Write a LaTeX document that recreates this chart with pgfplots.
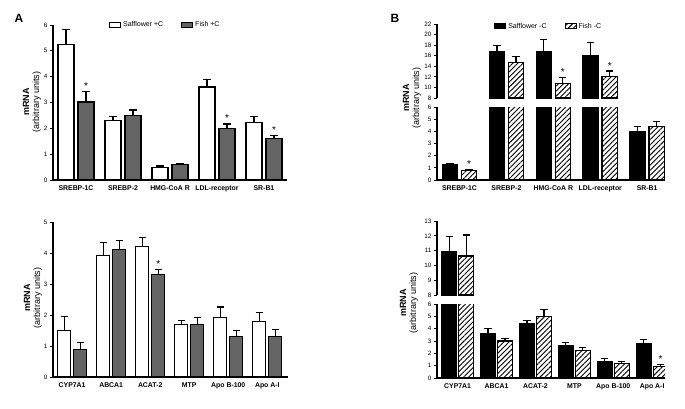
\documentclass[border=0pt]{standalone}
\usepackage{fontspec}
\setmainfont{Liberation Sans}
\usepackage{pgfplots}
\pgfplotsset{compat=1.18}
\usetikzlibrary{patterns,patterns.meta}
\definecolor{fishgray}{RGB}{100,100,100}
\tikzset{ylab/.style={rotate=90, align=center, font=\fontsize{9}{10}\selectfont},
  ast/.style={anchor=south, yshift=-1.5pt, font=\fontsize{10}{10}\selectfont}}
\pgfplotsset{
  prism/.style={
    scale only axis, anchor=south west,
    axis x line*=bottom, axis y line*=left,
    enlargelimits=false,
    tick align=outside, major tick length=3pt,
    xtick style={draw=none},
    ytick style={line width=1pt, black},
    axis line style={line width=1.1pt, black},
    /pgf/number format/assume math mode=true,
    ticklabel style={font=\fontsize{6.3}{7}\selectfont},
    yticklabel style={xshift=1pt},
    xticklabel style={font=\fontsize{6.9}{7.5}\selectfont\bfseries, yshift=1pt},
    clip marker paths=true,
    legend style={draw=none, fill=none, font=\fontsize{7}{8}\selectfont,
      legend columns=2, /tikz/every even column/.append style={column sep=16pt}},
    every axis plot/.append style={line width=1.15pt, draw=black,
      /pgfplots/error bars/y dir=plus, /pgfplots/error bars/y explicit,
      /pgfplots/error bars/error bar style={line width=1.15pt, black, solid},
      /pgfplots/error bars/error mark options={rotate=90, mark size=3.6pt, line width=1.15pt, black}},
  },
  boxleg/.style={legend image code/.code={\draw[##1, line width=1pt] (0pt,-2.5pt) rectangle (11pt,2.5pt);}},
  saff/.style={fill=white, draw=black, boxleg},
  fish/.style={fill=fishgray, draw=black, boxleg},
  saffB/.style={fill=black, draw=black, boxleg},
  fishB/.style={draw=black, pattern={Lines[angle=45, distance=3.6pt, line width=0.9pt]}, boxleg},
}
\newcommand{\ylabtext}{\textbf{mRNA}\\(arbitrary units)}
\begin{document}
\begin{tikzpicture}
\useasboundingbox (0pt,0pt) rectangle (685pt,408pt);

% ---------------- Panel A top ----------------
\begin{axis}[prism, at={(53pt,228pt)}, width=234pt, height=155pt,
  xmin=-0.49, xmax=4.49, ymin=0, ymax=6, ytick={0,1,...,6},
  ybar=4pt, bar width=16pt,
  xtick={0,...,4}, xticklabels={SREBP-1C,SREBP-2,HMG-CoA R,LDL-receptor,SR-B1},
  legend style={at={(0.48,1)}, anchor=center}]
\addplot[saff] coordinates {(0,5.23)+-(0,0.58) (1,2.31)+-(0,0.15) (2,0.49)+-(0,0.05) (3,3.6)+-(0,0.28) (4,2.21)+-(0,0.25)};
\addplot[fish] coordinates {(0,3.02)+-(0,0.40) (1,2.5)+-(0,0.21) (2,0.59)+-(0,0.06) (3,2.0)+-(0,0.17) (4,1.6)+-(0,0.12)};
\legend{Safflower +C, Fish +C}
\node[ast, xshift=10pt] at (axis cs:0,3.42) {*};
\node[ast, xshift=10pt] at (axis cs:3,2.17) {*};
\node[ast, xshift=10pt] at (axis cs:4,1.72) {*};
\end{axis}
\node[ylab] at (32pt,306pt) {\ylabtext};
\node[font=\fontsize{12}{12}\selectfont\bfseries] at (19pt,390pt) {A};

% ---------------- Panel A bottom ----------------
\begin{axis}[prism, at={(53pt,31pt)}, width=235pt, height=155pt,
  xmin=-0.49, xmax=5.53, ymin=0, ymax=5, ytick={0,1,...,5},
  ybar=3pt, bar width=13pt,
  xtick={0,...,5}, xticklabels={CYP7A1,ABCA1,ACAT-2,MTP,Apo B-100,Apo A-I}]
\addplot[saff] coordinates {(0,1.5)+-(0,0.45) (1,3.91)+-(0,0.44) (2,4.21)+-(0,0.29) (3,1.7)+-(0,0.13) (4,1.91)+-(0,0.35) (5,1.8)+-(0,0.29)};
\addplot[fish] coordinates {(0,0.9)+-(0,0.22) (1,4.11)+-(0,0.29) (2,3.31)+-(0,0.17) (3,1.7)+-(0,0.23) (4,1.3)+-(0,0.21) (5,1.3)+-(0,0.24)};
\node[ast, xshift=8pt] at (axis cs:2,3.48) {*};
\end{axis}
\node[ylab] at (33pt,110pt) {\ylabtext};

% ---------------- Panel B top (broken axis) ----------------
\begin{axis}[prism, at={(437pt,228pt)}, width=228pt, height=73pt,
  xmin=-0.48, xmax=4.38, ymin=0, ymax=6, ytick={0,1,...,6},
  ybar=3.5pt, bar width=15.5pt,
  xtick={0,...,4}, xticklabels={SREBP-1C,SREBP-2,HMG-CoA R,LDL-receptor,SR-B1}]
\addplot[saffB] coordinates {(0,1.25)+-(0,0.08) (1,16.78)+-(0,0) (2,16.8)+-(0,0) (3,16.08)+-(0,0) (4,3.99)+-(0,0.41)};
\addplot[fishB] coordinates {(0,0.8)+-(0,0.08) (1,14.75)+-(0,0) (2,10.74)+-(0,0) (3,12.0)+-(0,0) (4,4.38)+-(0,0.41)};
\node[ast, xshift=9.5pt] at (axis cs:0,0.88) {*};
\end{axis}
\begin{axis}[prism, at={(437pt,310pt)}, width=228pt, height=74pt,
  axis x line=none,
  xmin=-0.48, xmax=4.38, ymin=8, ymax=22, ytick={8,10,...,22},
  ybar=3.5pt, bar width=15.5pt, xtick=\empty,
  legend style={at={(0.49,0.97)}, anchor=center}]
\addplot[saffB] coordinates {(1,16.78)+-(0,1.15) (2,16.8)+-(0,2.2) (3,16.08)+-(0,2.42)};
\addplot[fishB] coordinates {(1,14.75)+-(0,1.08) (2,10.74)+-(0,1.14) (3,12.0)+-(0,1.1)};
\legend{Safflower -C, Fish -C}
\node[ast, xshift=9.5pt] at (axis cs:2,11.88) {*};
\node[ast, xshift=9.5pt] at (axis cs:3,13.1) {*};
\end{axis}
\node[ylab] at (412pt,310pt) {\ylabtext};
\node[font=\fontsize{12}{12}\selectfont\bfseries] at (395pt,390pt) {B};

% ---------------- Panel B bottom (broken axis) ----------------
\begin{axis}[prism, at={(437pt,30pt)}, width=228pt, height=74pt,
  xmin=-0.53, xmax=5.33, ymin=0, ymax=6, ytick={0,1,...,6},
  ybar=2pt, bar width=15pt,
  xtick={0,...,5}, xticklabels={CYP7A1,ABCA1,ACAT-2,MTP,Apo B-100,Apo A-I}]
\addplot[saffB] coordinates {(0,10.93)+-(0,0) (1,3.63)+-(0,0.35) (2,4.39)+-(0,0.27) (3,2.62)+-(0,0.27) (4,1.34)+-(0,0.21) (5,2.81)+-(0,0.33)};
\addplot[fishB] coordinates {(0,10.64)+-(0,0) (1,3.0)+-(0,0.22) (2,4.99)+-(0,0.55) (3,2.24)+-(0,0.24) (4,1.15)+-(0,0.21) (5,0.95)+-(0,0.17)};
\node[ast, xshift=8.5pt] at (axis cs:5,1.12) {*};
\end{axis}
\begin{axis}[prism, at={(437pt,113pt)}, width=228pt, height=74pt,
  axis x line=none,
  xmin=-0.53, xmax=5.33, ymin=8, ymax=13, ytick={8,9,...,13},
  ybar=2pt, bar width=15pt, xtick=\empty]
\addplot[saffB] coordinates {(0,10.93)+-(0,1.01)};
\addplot[fishB] coordinates {(0,10.64)+-(0,1.41)};
\end{axis}
\node[ylab] at (409pt,105pt) {\ylabtext};
\end{tikzpicture}
\end{document}
